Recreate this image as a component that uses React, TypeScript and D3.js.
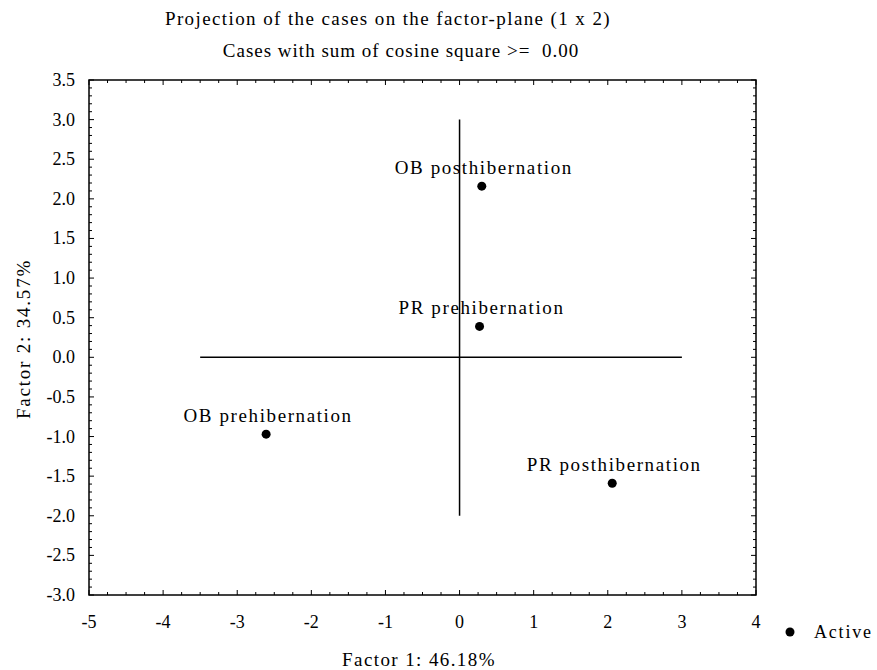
import * as d3 from "d3";
import { useEffect, useRef } from "react";

const caseNames = [
  "OB posthibernation",
  "PR prehibernation",
  "OB prehibernation",
  "PR posthibernation",
];
const factor1 = [0.3, 0.27, -2.61, 2.06];
const factor2 = [2.16, 0.39, -0.97, -1.59];
const xTicks = [-5, -4, -3, -2, -1, 0, 1, 2, 3, 4];
const yTicks = [3.5, 3.0, 2.5, 2.0, 1.5, 1.0, 0.5, 0.0, -0.5, -1.0, -1.5, -2.0, -2.5, -3.0];

const App = () => {
  const ref = useRef<SVGSVGElement>(null);
  const W = 877,
    H = 670;

  useEffect(() => {
    const svg = d3.select(ref.current);
    svg.selectAll("*").remove();
    const font = "'Liberation Serif', 'Times New Roman', serif";

    const margin = { top: 80, left: 89 },
      width = 667,
      height = 515;

    const x = d3.scaleLinear().domain([-5, 4]).range([0, width]);
    const y = d3.scaleLinear().domain([-3, 3.5]).range([height, 0]);

    const g = svg.append("g").attr("transform", `translate(${margin.left},${margin.top})`);

    // frame
    g.append("rect")
      .attr("width", width)
      .attr("height", height)
      .attr("fill", "none")
      .attr("stroke", "#000")
      .attr("stroke-width", 1.5);

    // inward ticks on all four sides
    const xMinor = d3.range(-5, 4.001, 0.25);
    const yMinor = d3.range(-3, 3.501, 0.1);
    const tick = g.append("g").attr("stroke", "#000").attr("stroke-width", 1);
    xMinor.forEach((v) => {
      const major = Math.abs(v - Math.round(v)) < 1e-6;
      const len = major ? 5 : 3;
      tick.append("line").attr("x1", x(v)).attr("x2", x(v)).attr("y1", height).attr("y2", height - len);
      tick.append("line").attr("x1", x(v)).attr("x2", x(v)).attr("y1", 0).attr("y2", len);
    });
    yMinor.forEach((v) => {
      const major = Math.abs(v * 2 - Math.round(v * 2)) < 1e-6;
      const len = major ? 5 : 3;
      tick.append("line").attr("x1", 0).attr("x2", len).attr("y1", y(v)).attr("y2", y(v));
      tick.append("line").attr("x1", width).attr("x2", width - len).attr("y1", y(v)).attr("y2", y(v));
    });

    // tick labels
    g.selectAll(".xl")
      .data(xTicks)
      .join("text")
      .attr("x", (d) => x(d))
      .attr("y", height + 33)
      .attr("text-anchor", "middle")
      .attr("font-family", font)
      .attr("font-size", 18)
      .text((d) => String(d));

    g.selectAll(".yl")
      .data(yTicks)
      .join("text")
      .attr("x", -14)
      .attr("y", (d) => y(d) + 6)
      .attr("text-anchor", "end")
      .attr("font-family", font)
      .attr("font-size", 18)
      .text((d) => d.toFixed(1));

    // factor axes through origin
    g.append("line")
      .attr("x1", x(-3.5))
      .attr("x2", x(3))
      .attr("y1", y(0))
      .attr("y2", y(0))
      .attr("stroke", "#000")
      .attr("stroke-width", 1.5);
    g.append("line")
      .attr("x1", x(0))
      .attr("x2", x(0))
      .attr("y1", y(3))
      .attr("y2", y(-2))
      .attr("stroke", "#000")
      .attr("stroke-width", 1.5);

    // cases
    const pts = caseNames.map((n, i) => ({ name: n, f1: factor1[i], f2: factor2[i] }));
    g.selectAll(".pt")
      .data(pts)
      .join("circle")
      .attr("cx", (d) => x(d.f1))
      .attr("cy", (d) => y(d.f2))
      .attr("r", 4.5)
      .attr("fill", "#000");
    g.selectAll(".lab")
      .data(pts)
      .join("text")
      .attr("x", (d) => x(d.f1) + 2)
      .attr("y", (d) => y(d.f2) - 12)
      .attr("text-anchor", "middle")
      .attr("font-family", font)
      .attr("font-size", 19)
      .attr("letter-spacing", 1.6)
      .text((d) => d.name);

    // titles
    svg.append("text")
      .attr("x", 388)
      .attr("y", 25)
      .attr("text-anchor", "middle")
      .attr("font-family", font)
      .attr("font-size", 19)
      .attr("letter-spacing", 1.4)
      .text("Projection of the cases on the factor-plane (1 x 2)");
    svg.append("text")
      .attr("x", 401)
      .attr("y", 57)
      .attr("text-anchor", "middle")
      .attr("font-family", font)
      .attr("font-size", 19)
      .attr("letter-spacing", 1)
      .style("white-space", "pre")
      .text("Cases with sum of cosine square >=  0.00");

    // axis titles
    svg.append("text")
      .attr("x", 419)
      .attr("y", 666)
      .attr("text-anchor", "middle")
      .attr("font-family", font)
      .attr("font-size", 19)
      .attr("letter-spacing", 1.4)
      .text("Factor 1: 46.18%");
    svg.append("text")
      .attr("transform", `translate(30,339) rotate(-90)`)
      .attr("text-anchor", "middle")
      .attr("font-family", font)
      .attr("font-size", 19)
      .attr("letter-spacing", 1.8)
      .text("Factor 2: 34.57%");

    // legend
    svg.append("circle").attr("cx", 790).attr("cy", 632).attr("r", 4.5).attr("fill", "#000");
    svg.append("text")
      .attr("x", 814)
      .attr("y", 638)
      .attr("font-family", font)
      .attr("font-size", 18)
      .attr("letter-spacing", 1.8)
      .text("Active");
  }, []);

  return (
    <svg
      ref={ref}
      width={W}
      height={H}
      style={{ position: "absolute", left: 0, top: 0, background: "#fff" }}
    />
  );
};

export default App;
